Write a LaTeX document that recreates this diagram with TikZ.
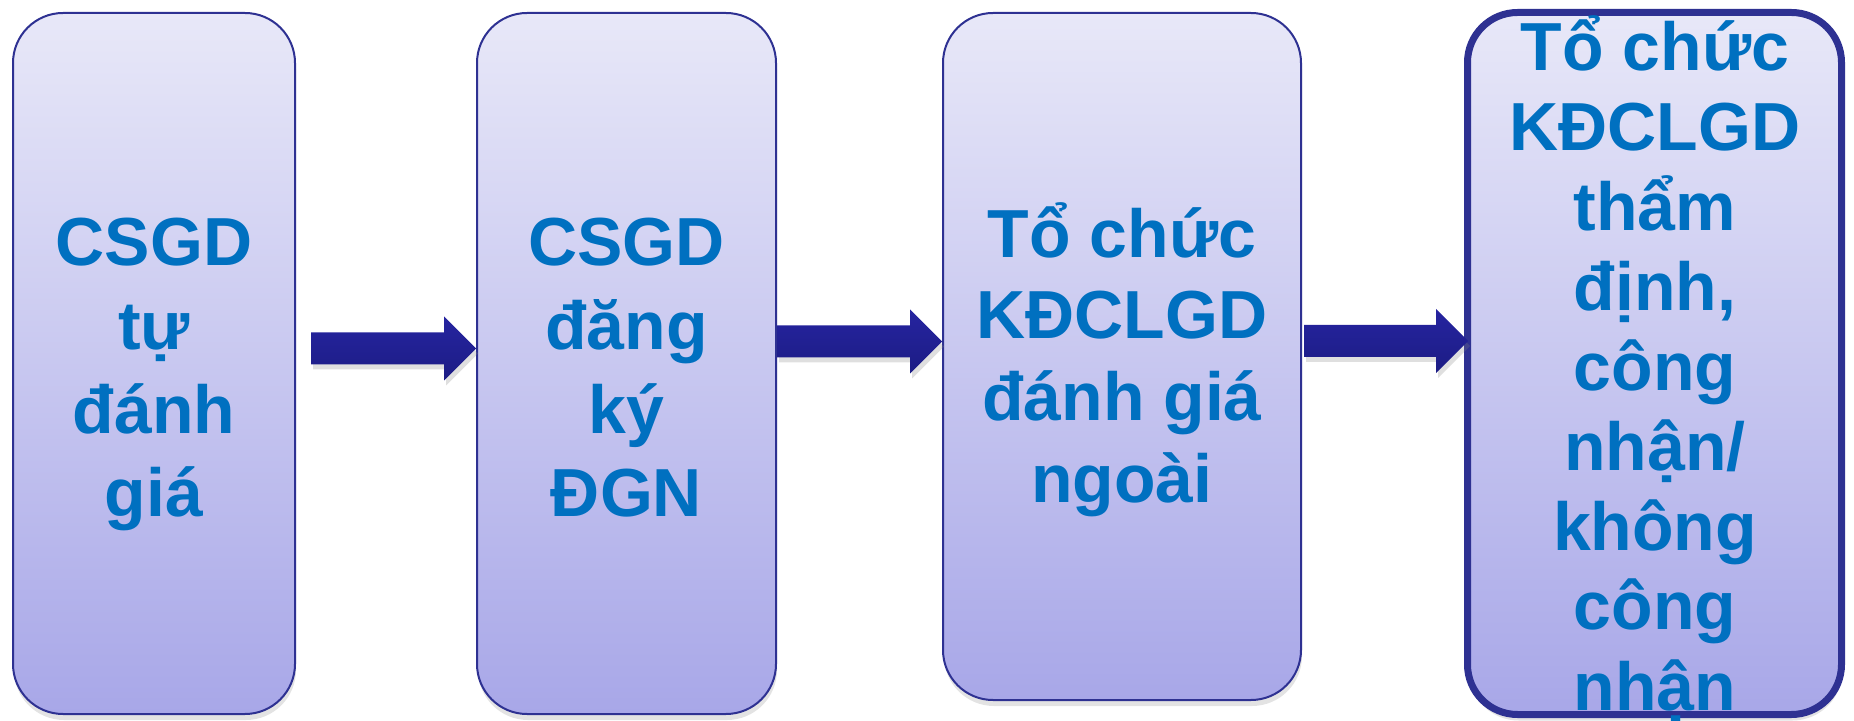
\documentclass[tikz,border=0pt]{standalone}
\usepackage{fontspec}
\setmainfont{Liberation Sans}
\usetikzlibrary{calc,shadows}
\definecolor{bordercol}{RGB}{46,49,146}
\definecolor{textcol}{RGB}{0,112,192}
\definecolor{arrowtop}{RGB}{38,36,160}
\definecolor{arrowbot}{RGB}{28,28,132}
\definecolor{filltop}{RGB}{232,232,248}
\definecolor{fillbot}{RGB}{168,167,232}
\tikzset{
  stagebox/.style={draw=bordercol, line width=1pt, rounded corners=25pt,
    top color=filltop, bottom color=fillbot, inner sep=0pt,
    drop shadow={opacity=0.22, shadow xshift=0.5pt, shadow yshift=-3pt}},
  stagetext/.style={text=textcol, align=center, anchor=base, inner sep=0pt},
  arrowfill/.style={top color=arrowtop, bottom color=arrowbot, draw=none,
    drop shadow={opacity=0.25, shadow xshift=1pt, shadow yshift=-2.5pt}}
}
\newcommand\blockarr[2]{%
  \path[arrowfill] ($(#1)+(0,-16)$) -- ($(#2)+(-32,-16)$) -- ($(#2)+(-32,-32)$)
    -- (#2) -- ($(#2)+(-32,32)$) -- ($(#2)+(-32,16)$) -- ($(#1)+(0,16)$) -- cycle;}
\begin{document}
\begin{tikzpicture}[x=0.5pt,y=-0.5pt]
\useasboundingbox (0,0) rectangle (1854,721);
% boxes
\node[stagebox, minimum width=141pt, minimum height=350.5pt] (b1) at (154,363.5) {};
\node[stagebox, minimum width=149.5pt, minimum height=350.5pt] (b2) at (626.5,363.5) {};
\node[stagebox, minimum width=179pt, minimum height=343.5pt] (b3) at (1122,356.5) {};
\node[stagebox, line width=3.5pt, minimum width=187pt, minimum height=351pt] (b4) at (1654.5,363.5) {};
% texts (base anchor = last line baseline)
\node[stagetext, font=\bfseries\fontsize{34}{42}\selectfont] (t1) at (154,517) {CSGD\\tự\\đánh\\giá};
\node[stagetext, font=\bfseries\fontsize{34}{42}\selectfont] (t2) at (626.5,517) {CSGD\\đăng\\ký\\ĐGN};
\node[stagetext, font=\bfseries\fontsize{34}{41}\selectfont] (t3) at (1122,503) {Tổ chức\\KĐCLGD\\đánh giá\\ngoài};
\node[stagetext, font=\bfseries\fontsize{34}{40}\selectfont] (t4) at (1655,710) {Tổ chức\\KĐCLGD\\thẩm\\định,\\công\\nhận/\\không\\công\\nhận};
% arrows
\coordinate (a1s) at ($(b1.east)+(15,-15)$);
\coordinate (a1e) at (a1s -| b2.west);
\blockarr{a1s}{a1e}
\coordinate (a2s) at ($(b2.east)+(0,-22)$);
\coordinate (a2e) at (a2s -| b3.west);
\blockarr{a2s}{a2e}
\coordinate (a3s) at ($(b3.east)+(2,-15.5)$);
\coordinate (a3e) at ($(a3s -| b4.west)+(4,0)$);
\blockarr{a3s}{a3e}
\end{tikzpicture}
\end{document}
